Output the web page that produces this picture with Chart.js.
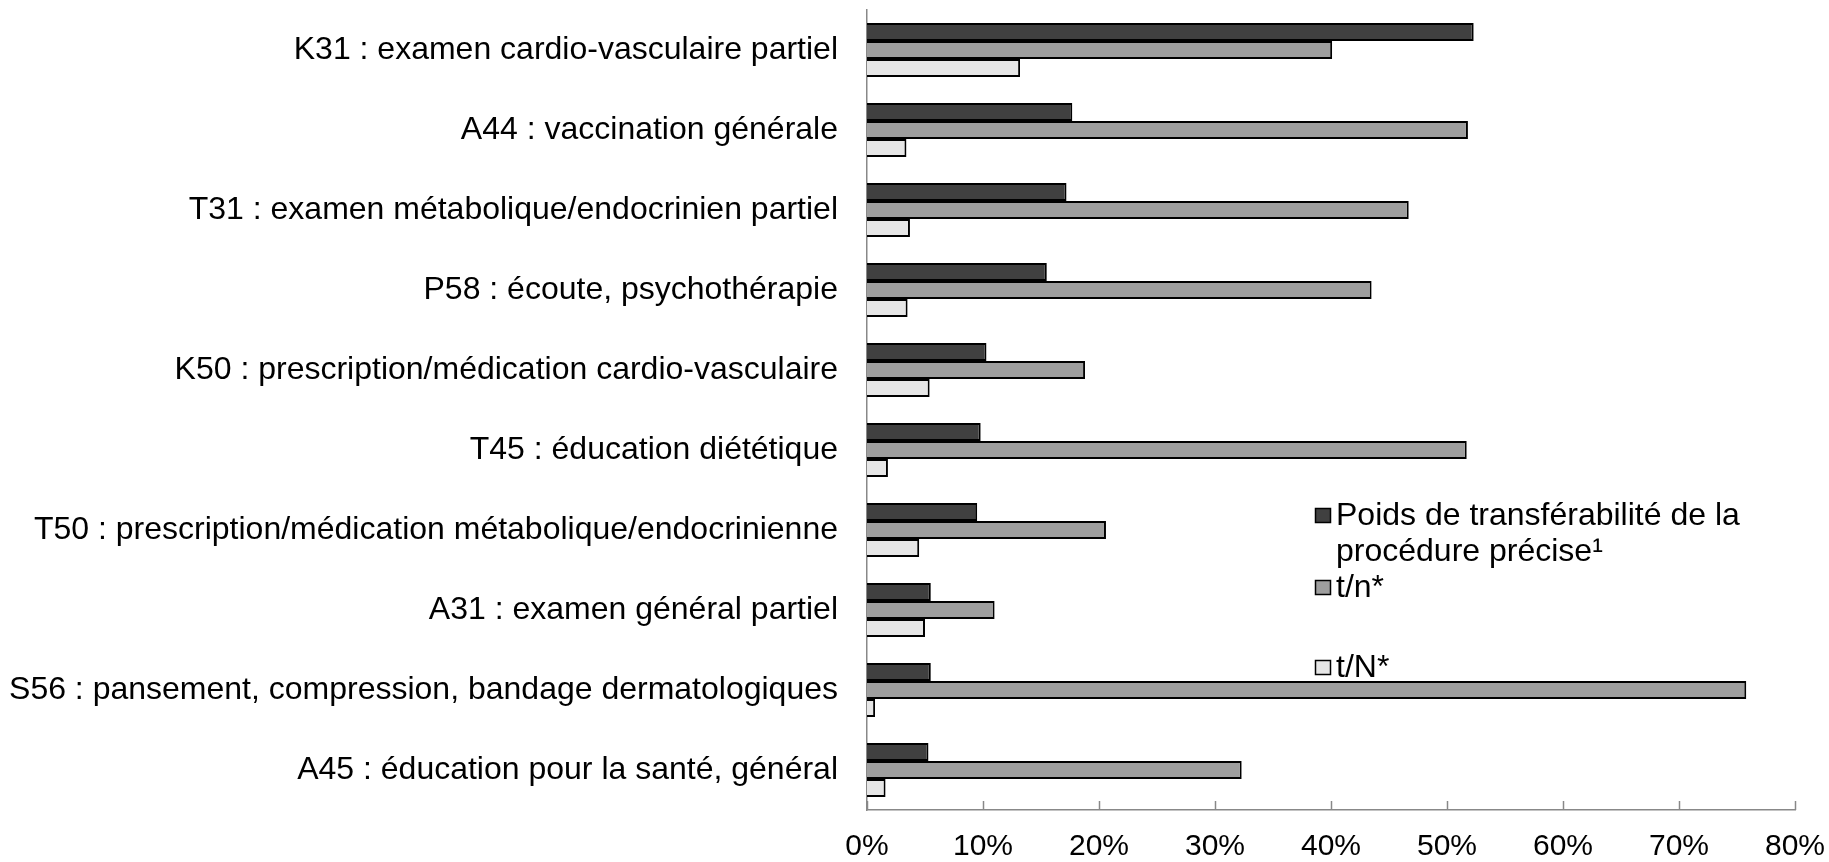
<!DOCTYPE html>
<html>
<head>
<meta charset="utf-8">
<script src="https://cdn.jsdelivr.net/npm/chart.js@4"></script>
<style>
  body { margin: 0; background: #fff; }
  canvas { display: block; }
</style>
</head>
<body>
<canvas id="chart" width="1829" height="862"></canvas>
<script>
const categories = [
  'K31 : examen cardio-vasculaire partiel',
  'A44 : vaccination générale',
  'T31 : examen métabolique/endocrinien partiel',
  'P58 : écoute, psychothérapie',
  'K50 : prescription/médication cardio-vasculaire',
  'T45 : éducation diététique',
  'T50 : prescription/médication métabolique/endocrinienne',
  'A31 : examen général partiel',
  'S56 : pansement, compression, bandage dermatologiques',
  'A45 : éducation pour la santé, général'
];
const poids = [52.3, 17.7, 17.2, 15.5, 10.3, 9.8, 9.5, 5.5, 5.5, 5.3];
const tn = [40.1, 51.8, 46.7, 43.5, 18.8, 51.7, 20.6, 11.0, 75.8, 32.3];
const tN = [13.2, 3.4, 3.7, 3.5, 5.4, 1.8, 4.5, 5.0, 0.7, 1.6];
const xTicks = [0, 10, 20, 30, 40, 50, 60, 70, 80];
const seriesNames = ['Poids de transférabilité de la procédure précise¹', 't/n*', 't/N*'];
const legendLines = [['Poids de transférabilité de la', 'procédure précise¹'], ['t/n*'], [''], ['t/N*']];

const FONT = '"Liberation Sans", Arial, sans-serif';
const axisGray = '#888888';

// inside tick marks on the x axis + the custom legend
const extras = {
  id: 'extras',
  afterDraw(chart) {
    const ctx = chart.ctx;
    const x = chart.scales.x;
    const bottom = chart.chartArea.bottom;
    ctx.save();
    ctx.strokeStyle = axisGray;
    ctx.lineWidth = 1.5;
    xTicks.forEach(v => {
      const px = Math.round(x.getPixelForValue(v)) + 0.5;
      ctx.beginPath();
      ctx.moveTo(px, bottom - 9);
      ctx.lineTo(px, bottom);
      ctx.stroke();
    });

    // legend
    ctx.font = '32px ' + FONT;
    ctx.fillStyle = '#000';
    ctx.textBaseline = 'alphabetic';
    let baseline = 525;
    let ds = 0;
    legendLines.forEach(lines => {
      if (lines[0] !== '') {
        const d = chart.data.datasets[ds++];
        ctx.fillStyle = d.backgroundColor;
        ctx.fillRect(1315, baseline - 17, 16, 15);
        ctx.strokeStyle = '#000';
        ctx.lineWidth = 1.5;
        ctx.strokeRect(1315.5, baseline - 16.5, 15, 14);
        ctx.fillStyle = '#000';
      }
      lines.forEach(l => {
        ctx.fillText(l, 1336, baseline);
        baseline += 36;
      });
      if (lines[0] === '') baseline += 8;
    });
    ctx.restore();
  }
};

new Chart(document.getElementById('chart'), {
  type: 'bar',
  data: {
    labels: categories,
    datasets: [
      { label: seriesNames[0], data: poids, backgroundColor: '#404040' },
      { label: seriesNames[1], data: tn, backgroundColor: '#9e9e9e' },
      { label: seriesNames[2], data: tN, backgroundColor: '#e6e6e6' }
    ]
  },
  options: {
    indexAxis: 'y',
    responsive: false,
    animation: false,
    layout: { padding: { top: 10, right: 34, left: 0, bottom: 0 } },
    datasets: {
      bar: {
        categoryPercentage: 0.675,
        barPercentage: 1,
        borderColor: '#000',
        borderWidth: 2
      }
    },
    plugins: {
      legend: { display: false },
      tooltip: { enabled: false }
    },
    scales: {
      x: {
        min: 0,
        max: 80,
        afterBuildTicks: s => { s.ticks = xTicks.map(v => ({ value: v })); },
        afterFit: s => {
          s.height = 52;
          s.paddingLeft = 0; s.paddingRight = 0;
          s.paddingTop = 0; s.paddingBottom = 0;
        },
        grid: { display: false, drawTicks: false },
        border: { display: true, color: axisGray, width: 1.5 },
        ticks: {
          padding: 19,
          color: '#000',
          font: { size: 30, family: FONT },
          maxRotation: 0,
          autoSkip: false,
          callback: v => v + '%'
        }
      },
      y: {
        afterFit: s => {
          s.width = 867;
          s.paddingLeft = 0; s.paddingRight = 0;
          s.paddingTop = 0; s.paddingBottom = 0;
        },
        grid: { display: false, drawTicks: false },
        border: { display: true, color: axisGray, width: 1.5 },
        ticks: {
          padding: 29,
          color: '#000',
          font: { size: 32, family: FONT }
        }
      }
    }
  },
  plugins: [extras]
});
</script>
</body>
</html>
